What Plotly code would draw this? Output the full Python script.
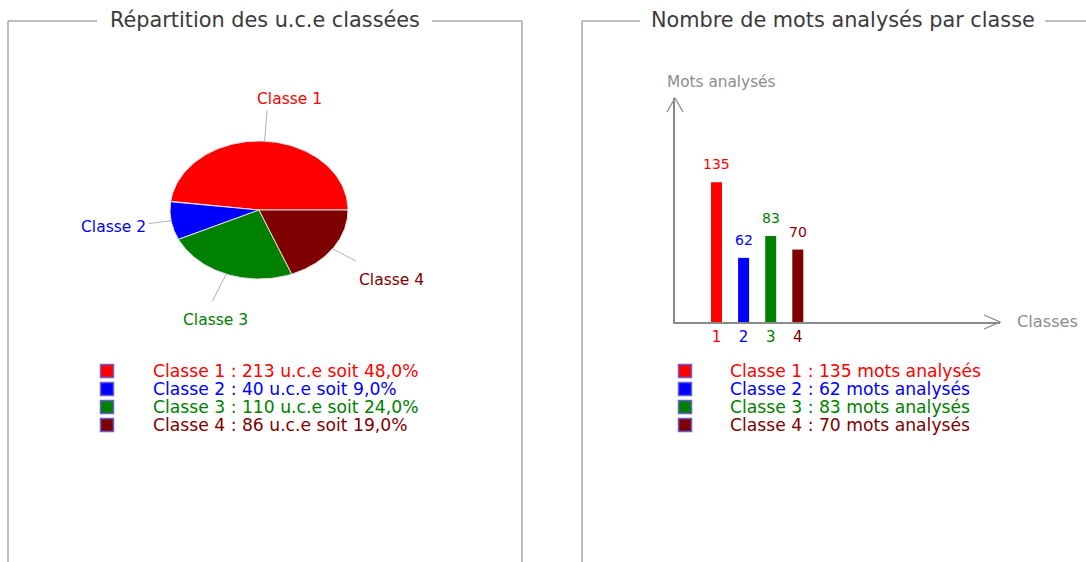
import numpy as np
import plotly.graph_objects as go

# ---------------- data ----------------
classes = ["Classe 1", "Classe 2", "Classe 3", "Classe 4"]
class_nums = [1, 2, 3, 4]
uce_counts = [213, 40, 110, 86]
uce_pct = [48.0, 9.0, 24.0, 19.0]
mots = [135, 62, 83, 70]
colors = ["#ff0000", "#0000ff", "#008000", "#7f0000"]
title_left = "Répartition des u.c.e classées"
title_right = "Nombre de mots analysés par classe"
y_title = "Mots analysés"
x_title = "Classes"

# ---------------- layout constants (pixels) ----------------
W, H = 1086, 562
FONT = "DejaVu Sans"
BOX = "#a8a8a8"
AXC = "#8a8a8a"

fig = go.Figure()

# ---------------- pie (elliptical) ----------------
cx, cy, ra, rb = 259, 210, 89, 69
fracs = np.array(uce_pct) / sum(uce_pct)
theta0 = 0.0
annotations = []
for i, f in enumerate(fracs):
    t = np.linspace(theta0, theta0 + f * 2 * np.pi, 90)
    xs = np.concatenate([[cx], cx + ra * np.cos(t), [cx]])
    ys = np.concatenate([[cy], cy - rb * np.sin(t), [cy]])
    fig.add_trace(go.Scatter(x=xs, y=ys, fill="toself", fillcolor=colors[i],
                             mode="lines", line=dict(color="#e0e0e0", width=1),
                             hoverinfo="skip", showlegend=False, xaxis="x", yaxis="y"))
    mid = theta0 + f * np.pi
    c, s = np.cos(mid), np.sin(mid)
    ex, ey = cx + ra * c, cy - rb * s
    d = np.array([ra * c, -rb * s])
    d = d / np.linalg.norm(d)
    L = 21 + 10 * abs(s)
    ox, oy = ex + L * d[0], ey + L * d[1]
    fig.add_trace(go.Scatter(x=[ex, ox], y=[ey, oy], mode="lines",
                             line=dict(color="#b0b0b0", width=1),
                             hoverinfo="skip", showlegend=False, xaxis="x", yaxis="y"))
    xa = "left" if c > 0.5 else ("right" if c < -0.5 else "center")
    if abs(c) > 0.9:
        ya, ysh = "middle", -3
    elif s > 0:
        ya, ysh = "bottom", 0
    else:
        ya, ysh = "top", -8
    xsh = 1 if xa == "left" else (-1 if xa == "right" else 12 + 10 * s)
    annotations.append(dict(x=ox, y=oy, xref="x", yref="y", text=classes[i],
                            showarrow=False, xanchor=xa, yanchor=ya,
                            xshift=xsh, yshift=ysh,
                            font=dict(family=FONT, size=15.5, color=colors[i])))
    theta0 += f * 2 * np.pi

# ---------------- legends ----------------
row0, dy = 371, 18
rows = [row0 + dy * i for i in range(len(classes))]
left_texts = [f"{classes[i]} : {uce_counts[i]} u.c.e soit "
              + f"{uce_pct[i]:.1f}".replace(".", ",") + "%" for i in range(len(classes))]
right_texts = [f"{classes[i]} : {mots[i]} mots analysés" for i in range(len(classes))]
for mx, tx, texts in [(107, 151, left_texts), (685, 728, right_texts)]:
    fig.add_trace(go.Scatter(x=[mx] * len(rows), y=rows, mode="markers",
                             marker=dict(symbol="square", size=13, color=colors,
                                         line=dict(color="#6a5fd0", width=1.5)),
                             hoverinfo="skip", showlegend=False, xaxis="x", yaxis="y"))
    for i, txt in enumerate(texts):
        annotations.append(dict(x=tx, y=rows[i], xref="x", yref="y", text=txt,
                                showarrow=False, xanchor="left", yanchor="middle",
                                font=dict(family=FONT, size=17.2, color=colors[i])))

# ---------------- bars ----------------
px_per_unit = 1.035
bar_left, bar_right, bar_bottom, bar_top = 675, 1000, 322, 98
cat_px0, cat_step = 716.5, 27.1
x0 = 1 - (cat_px0 - bar_left) / cat_step
x1 = x0 + (bar_right - bar_left) / cat_step
fig.add_trace(go.Bar(x=class_nums, y=mots, marker=dict(color=colors, line=dict(width=0)),
                     width=11 / cat_step, xaxis="x2", yaxis="y2",
                     hoverinfo="skip", showlegend=False))
for i, v in enumerate(mots):
    annotations.append(dict(x=class_nums[i], y=v, xref="x2", yref="y2", text=str(v),
                            showarrow=False, xanchor="center", yanchor="bottom", yshift=8,
                            font=dict(family=FONT, size=14, color=colors[i])))

annotations.append(dict(x=665, y=82, xref="x", yref="y", text=y_title, showarrow=False,
                        xanchor="left", yanchor="middle",
                        font=dict(family=FONT, size=15.3, color="#8c8c8c")))
annotations.append(dict(x=1015, y=321, xref="x", yref="y", text=x_title, showarrow=False,
                        xanchor="left", yanchor="middle",
                        font=dict(family=FONT, size=16.2, color="#8c8c8c")))

# ---------------- panel titles ----------------
annotations.append(dict(x=265, y=20, xref="x", yref="y", text=title_left, showarrow=False,
                        xanchor="center", yanchor="middle",
                        font=dict(family=FONT, size=20.8, color="#3a3a3a")))
annotations.append(dict(x=842.5, y=20, xref="x", yref="y", text=title_right, showarrow=False,
                        xanchor="center", yanchor="middle",
                        font=dict(family=FONT, size=20.8, color="#3a3a3a")))

# ---------------- decorations: group boxes and arrows ----------------
def seg(xa, ya, xb, yb, color=BOX, w=1.5):
    return dict(type="line", xref="x", yref="y", x0=xa, y0=ya, x1=xb, y1=yb,
                line=dict(color=color, width=w), layer="above")

shapes = [
    seg(8, 21, 8, H + 5), seg(8, 21, 97, 21), seg(432, 21, 522, 21), seg(522, 21, 522, H + 5),
    seg(582, 21, 582, H + 5), seg(582, 21, 640, 21), seg(1045, 21, W + 5, 21),
    # arrow heads
    dict(type="path", xref="x", yref="y", path="M 667 112 L 675 98 L 683 112",
         line=dict(color=AXC, width=1.3)),
    dict(type="path", xref="x", yref="y", path="M 984 315 L 1000 322 L 984 329",
         line=dict(color=AXC, width=1.3)),
]

ticktext = [f"<span style='color:{colors[i]}'>{n}</span>" for i, n in enumerate(class_nums)]

fig.update_layout(
    width=W, height=H, margin=dict(l=0, r=0, t=0, b=0), autosize=False,
    paper_bgcolor="white", plot_bgcolor="rgba(0,0,0,0)", showlegend=False,
    xaxis=dict(domain=[0, 1], range=[0, W], visible=False, fixedrange=True),
    yaxis=dict(domain=[0, 1], range=[H, 0], visible=False, fixedrange=True),
    xaxis2=dict(domain=[bar_left / W, bar_right / W], range=[x0, x1], anchor="y2",
                showline=True, linecolor=AXC, linewidth=1.5, showgrid=False, zeroline=False,
                tickvals=class_nums, ticktext=ticktext, ticks="",
                tickfont=dict(family=FONT, size=15)),
    yaxis2=dict(domain=[1 - bar_bottom / H, 1 - bar_top / H],
                range=[0, (bar_bottom - bar_top) / px_per_unit], anchor="x2",
                showline=True, linecolor=AXC, linewidth=1.5, showgrid=False, zeroline=False,
                showticklabels=False, ticks=""),
    annotations=annotations, shapes=shapes,
)

fig.write_html("out.html", config={"displayModeBar": False},
               post_script="document.body.style.margin='0px';document.body.style.overflow='hidden';")
